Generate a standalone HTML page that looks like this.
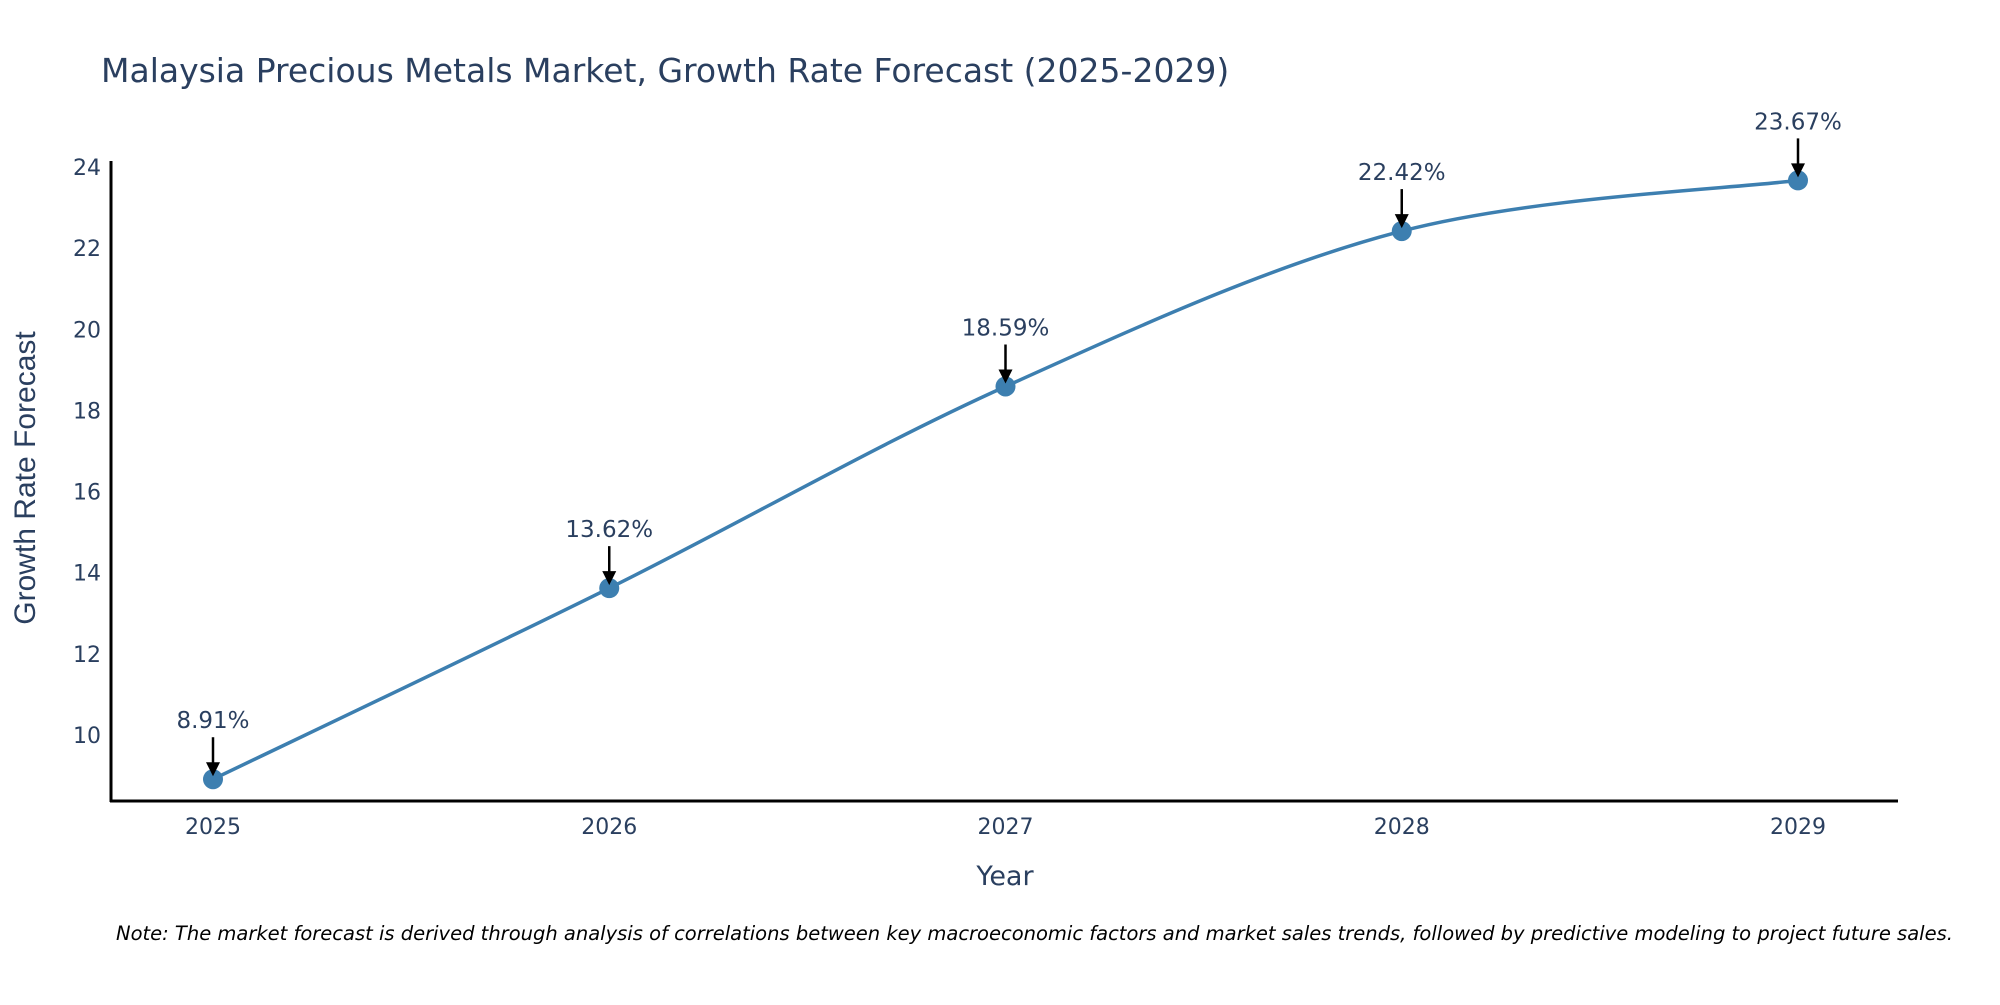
<!DOCTYPE html>
<html><head><meta charset="utf-8">
<style>
html,body{margin:0;padding:0;background:#fff;}
svg text{font-family:"DejaVu Sans","Liberation Sans",sans-serif;}
</style></head>
<body>
<svg id="chart" width="2000" height="1000" viewBox="0 0 2000 1000" xmlns="http://www.w3.org/2000/svg">
<rect width="2000" height="1000" fill="#fff"/>
<text x="101" y="82" font-size="33" fill="#2a3f5f">Malaysia Precious Metals Market, Growth Rate Forecast (2025-2029)</text>
<g id="yticks"></g>
<g id="xticks"></g>
<line x1="111" y1="161" x2="111" y2="802" stroke="#000" stroke-width="3"/>
<line x1="110" y1="801" x2="1898" y2="801" stroke="#000" stroke-width="3"/>
<path id="series" fill="none" stroke="#3d7fb0" stroke-width="3.5"/>
<g id="points"></g>
<g id="annots"></g>
<text x="1005" y="885" font-size="27" fill="#2a3f5f" text-anchor="middle">Year</text>
<text transform="translate(35,478) rotate(-90)" font-size="30" fill="#2a3f5f" text-anchor="middle" style="font-family:'Liberation Sans',sans-serif">Growth Rate Forecast</text>
<text x="116" y="940" font-size="19.5" font-style="italic" fill="#000">Note: The market forecast is derived through analysis of correlations between key macroeconomic factors and market sales trends, followed by predictive modeling to project future sales.</text>
</svg>
<script>
const years = ["2025","2026","2027","2028","2029"];
const growth = [8.91, 13.62, 18.59, 22.42, 23.67];
const yTicks = [10, 12, 14, 16, 18, 20, 22, 24];

const NS = "http://www.w3.org/2000/svg";
const xScale = i => 213 + i * (1798 - 213) / (years.length - 1);
const yScale = v => 735 - (v - 10) * (735 - 167) / 14;
function mk(tag, attrs, parent){const e=document.createElementNS(NS,tag);for(const k in attrs)e.setAttribute(k,attrs[k]);parent.appendChild(e);return e;}

const yt=document.getElementById('yticks');
yTicks.forEach(v=>{
  const t=mk('text',{x:101,y:yScale(v)+8,'font-size':22,fill:'#2a3f5f','text-anchor':'end'},yt);
  t.textContent=v;
  
  
});
const xt=document.getElementById('xticks');
years.forEach((y,i)=>{
  const t=mk('text',{x:xScale(i),y:834,'font-size':22,fill:'#2a3f5f','text-anchor':'middle'},xt);
  t.textContent=y;
  
  
});

const pts=growth.map((v,i)=>[xScale(i),yScale(v)]);
let d=`M${pts[0][0]},${pts[0][1]}`;
const tension=0.5;
for(let i=0;i<pts.length-1;i++){
  const p0=pts[i-1]||pts[i],p1=pts[i],p2=pts[i+1],p3=pts[i+2]||p2;
  const c1=[p1[0]+(p2[0]-p0[0])*tension/3,p1[1]+(p2[1]-p0[1])*tension/3];
  const c2=[p2[0]-(p3[0]-p1[0])*tension/3,p2[1]-(p3[1]-p1[1])*tension/3];
  d+=` C${c1[0]},${c1[1]} ${c2[0]},${c2[1]} ${p2[0]},${p2[1]}`;
}
document.getElementById('series').setAttribute('d',d);

const pg=document.getElementById('points');
const ag=document.getElementById('annots');
pts.forEach((p,i)=>{
  const c=mk('circle',{cx:p[0],cy:p[1],r:10,fill:'#3d7fb0'},pg);
  
  
  const l=mk('line',{x1:p[0],y1:p[1]-42,x2:p[0],y2:p[1]-14,stroke:'#000','stroke-width':2.5},ag);
  
  
  const h=mk('path',{d:`M${p[0]-7},${p[1]-17} L${p[0]+7},${p[1]-17} L${p[0]},${p[1]-3} Z`,fill:'#000'},ag);
  
  
  const t=mk('text',{x:p[0],y:p[1]-51,'font-size':23,fill:'#2a3f5f','text-anchor':'middle'},ag);
  t.textContent=growth[i].toFixed(2)+'%';
  
  
});
</script>
</body></html>
